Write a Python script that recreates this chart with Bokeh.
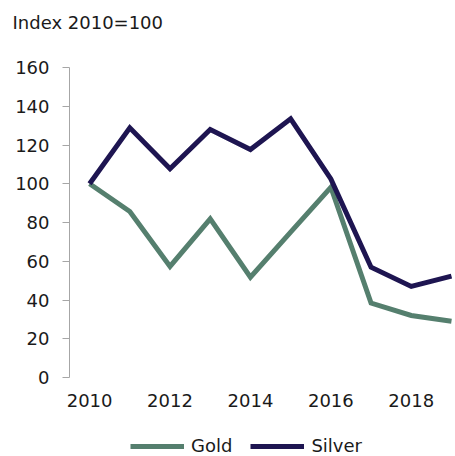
from bokeh.plotting import figure
from bokeh.layouts import column
from bokeh.models import Range1d, FixedTicker, Legend, LegendItem, Title
from bokeh.embed import file_html
from bokeh.resources import INLINE

years = [2010, 2011, 2012, 2013, 2014, 2015, 2016, 2017, 2018, 2019]
gold = [100, 85.7, 57.3, 81.9, 51.8, 75.0, 98.2, 38.4, 32.0, 29.0]
silver = [100, 128.9, 107.7, 128.0, 117.7, 133.5, 102.5, 56.9, 47.0, 52.3]
y_ticks = [0, 20, 40, 60, 80, 100, 120, 140, 160]
x_ticks = [2010, 2012, 2014, 2016, 2018]
series_names = ["Gold", "Silver"]
title_text = "Index 2010=100"

FONT = "DejaVu Sans"
GOLD_C = "#557f6e"
SILVER_C = "#1e1551"
TXT = "#1a1a1a"

# title strip
tp = figure(width=455, height=45, output_backend="svg", toolbar_location=None,
            x_axis_type=None, y_axis_type=None, min_border=0,
            x_range=Range1d(0, 1), y_range=Range1d(0, 1))
tp.outline_line_color = None
tp.xgrid.visible = False
tp.ygrid.visible = False
tp.title = Title(text=title_text, align="left", offset=-57, standoff=19,
                 text_font=FONT, text_font_size="18px", text_font_style="normal", text_color=TXT)

# main chart
p = figure(width=455, height=375, output_backend="svg", toolbar_location=None,
           x_range=Range1d(2009.5, 2019.1), y_range=Range1d(0, 160),
           min_border_left=69, min_border_right=0, min_border_top=22, min_border_bottom=43)
p.outline_line_color = None
p.xgrid.visible = False
p.ygrid.visible = False

p.yaxis.ticker = FixedTicker(ticks=y_ticks)
p.yaxis.axis_line_color = "#a6a6a6"
p.yaxis.major_tick_line_color = "#a6a6a6"
p.yaxis.major_tick_out = 7
p.yaxis.major_tick_in = 0
p.yaxis.minor_tick_line_color = None
p.yaxis.major_label_standoff = 13
p.yaxis.major_label_text_font = FONT
p.yaxis.major_label_text_font_size = "18px"
p.yaxis.major_label_text_color = TXT

p.xaxis.ticker = FixedTicker(ticks=x_ticks)
p.xaxis.axis_line_color = None
p.xaxis.major_tick_line_color = None
p.xaxis.minor_tick_line_color = None
p.xaxis.major_label_standoff = 10
p.xaxis.major_label_text_font = FONT
p.xaxis.major_label_text_font_size = "18px"
p.xaxis.major_label_text_color = TXT

p.line(years, gold, line_color=GOLD_C, line_width=5, line_join="miter")
p.line(years, silver, line_color=SILVER_C, line_width=5, line_join="miter")

# legend strip below the chart
lg = figure(width=455, height=36, output_backend="svg", toolbar_location=None,
            x_axis_type=None, y_axis_type=None, min_border=0,
            x_range=Range1d(0, 1), y_range=Range1d(0, 1))
lg.outline_line_color = None
lg.xgrid.visible = False
lg.ygrid.visible = False
g_r = lg.line(years, gold, line_color=GOLD_C, line_width=5, visible=False)
s_r = lg.line(years, silver, line_color=SILVER_C, line_width=5, visible=False)
legend = Legend(items=[LegendItem(label=series_names[0], renderers=[g_r]),
                       LegendItem(label=series_names[1], renderers=[s_r])],
                orientation="horizontal", location=(61, 0),
                label_text_font=FONT, label_text_font_size="18px", label_text_color=TXT,
                glyph_width=54, glyph_height=20, label_standoff=7, spacing=18,
                padding=0, margin=0, border_line_color=None, background_fill_alpha=0,
                inactive_fill_alpha=0)
lg.add_layout(legend, "center")

open("out.html", "w").write(file_html(column(tp, p, lg, spacing=0), INLINE))
